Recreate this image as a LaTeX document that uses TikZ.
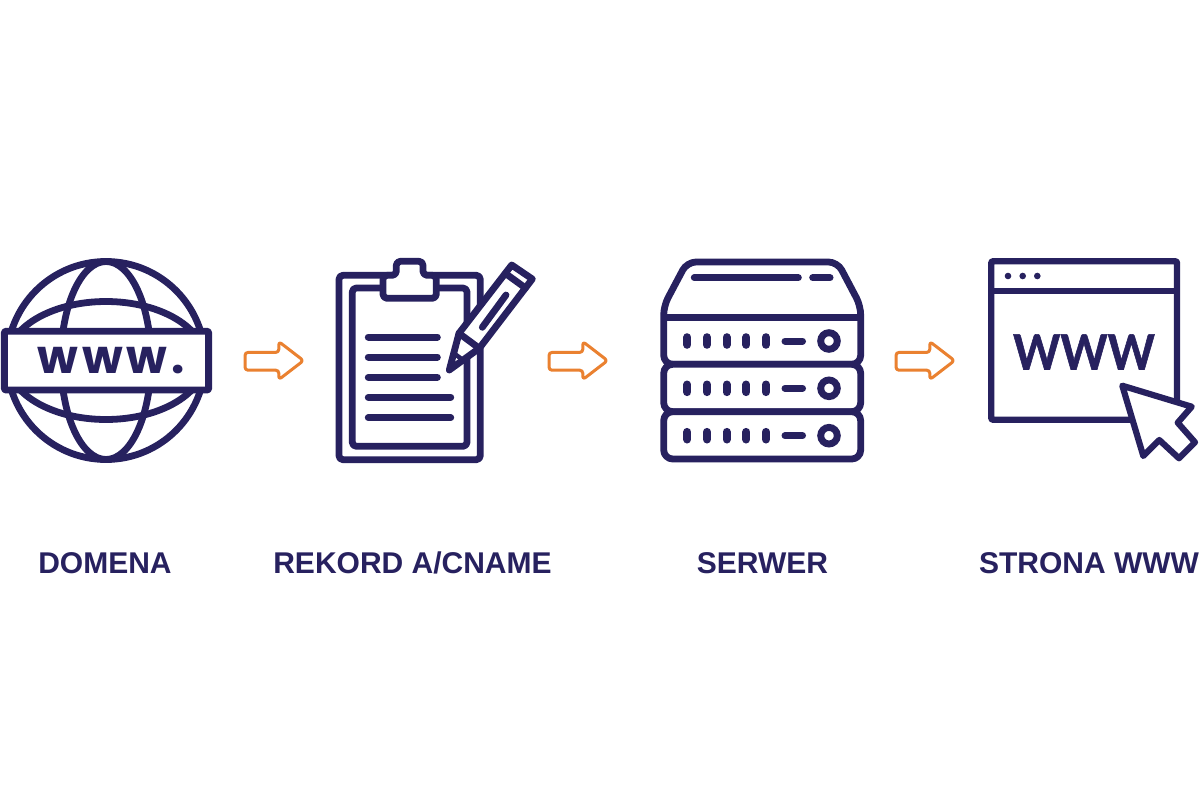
\documentclass[tikz,border=0pt]{standalone}
\usepackage{fontspec}
\setmainfont{Liberation Sans}
\newfontfamily\iconfont{Poppins}[BoldFont={Poppins Bold},BoldFeatures={LetterSpace=8}]
\newfontfamily\wwwfont{Lato}[BoldFeatures={FakeBold=1.2}]
\definecolor{navy}{HTML}{27215F}
\definecolor{orangeline}{HTML}{EA8130}
\tikzset{
  icon/.style={draw=navy,line width=6.8pt,line join=round,line cap=round},
  thinbar/.style={draw=navy,line width=7pt,line cap=round},
  blockarrow/.style={draw=orangeline,line width=3pt,rounded corners=3pt,line join=round},
  caption/.style={text=navy,font=\fontsize{30}{30}\selectfont\bfseries,anchor=base,inner sep=0pt}
}
\newcommand{\blockarrowat}[1]{%
  \draw[blockarrow,shift={(#1,0)}] (245,352.4) -- (278.8,352.4) -- (278.8,341.6) -- (303.5,360.6) -- (278.8,379.6) -- (278.8,370.2) -- (245,370.2) -- cycle;}
\newcommand{\serverrow}[1]{%
  \begin{scope}[shift={(0,#1)}]
    \foreach \x in {687.3,707,726.7,746.3,766} \draw[thinbar,line width=8pt] (\x,337.2) -- (\x,344.8);
    \draw[thinbar] (785,341) -- (802.5,341);
    \draw[navy,line width=6.9pt] (829,341) circle[radius=8.3];
  \end{scope}}
\begin{document}
\begin{tikzpicture}[x=1pt,y=-1pt]
\useasboundingbox (0,0) rectangle (1200,800);
\fill[white] (0,0) rectangle (1200,800);
% globe
\coordinate (globe) at (106,360.5);
\draw[icon] (globe) circle[radius=99];
\draw[icon] (globe) ellipse[x radius=45,y radius=99];
\draw[icon] (globe) ellipse[x radius=99,y radius=59];
\draw[icon,fill=white,line cap=butt,rounded corners=1pt] (4.4,331.3) rectangle (208.6,390);
\node[text=navy,inner sep=0pt,anchor=base,font=\iconfont\fontsize{47}{47}\selectfont\bfseries] (wwwdot) at (111,373) {www.};
% clipboard
\draw[icon,fill=white,rounded corners=4pt] (339,275.3) rectangle (480.3,459.7);
\draw[icon,fill=white,rounded corners=4pt] (352.3,288) rectangle (467,446.3);
\draw[icon,fill=white,rounded corners=4pt] (396.3,275.3) -- (396.3,261.3) -- (423,261.3) -- (423,275.3) -- (436.3,275.3) -- (436.3,298.3) -- (383,298.3) -- (383,275.3) -- cycle;
\foreach \y in {337,357,377.3} \draw[thinbar] (368.3,\y) -- (437.3,\y);
\foreach \y in {397.3,417.7} \draw[thinbar] (368.3,\y) -- (450.7,\y);
% pencil
\draw[icon,fill=white] (459,333.3) -- (511.7,265) -- (532.3,279) -- (479.3,348.3) -- (449.3,370) -- cycle;
\draw[icon] (459,333.3) -- (479.3,348.3);
\draw[icon] (505.5,273.5) -- (525.5,288);
\draw[icon] (482.3,327.3) -- (506,295);
\draw[navy,line width=4.5pt,line cap=round] (455.5,354.5) -- (465,361.5);
% server
\draw[icon,fill=white,rounded corners=9pt] (762,364.3) -- (663.7,364.3) -- (663.7,306) -- (687,262) -- (837.5,262) -- (860.7,306) -- (860.7,364.3) -- cycle;
\draw[icon,fill=white,rounded corners=9pt] (663.7,364.3) rectangle (860.7,411.7);
\draw[icon,fill=white,rounded corners=9pt] (663.7,411.7) rectangle (860.7,459);
\draw[icon,line cap=butt] (663.7,317.3) -- (860.7,317.3);
\draw[thinbar] (694.3,277.7) -- (798.3,277.7);
\draw[thinbar] (812.7,277.7) -- (830,277.7);
\serverrow{0}
\serverrow{47.3}
\serverrow{94.7}
% browser
\draw[icon,line width=6.2pt,fill=white,rounded corners=1pt] (991.3,261.3) rectangle (1177,419.7);
\draw[icon,line width=6.2pt,line cap=butt] (991.3,291) -- (1177,291);
\foreach \x in {1008,1022.7,1037.3} \fill[navy] (\x,276) circle[radius=3.3];
\node[text=navy,inner sep=0pt,anchor=base,font=\wwwfont\fontsize{45}{45}\selectfont\bfseries] (wwwtext) at (1084,369.5) {\scalebox{1}[1.08]{WWW}};
\draw[icon,line width=6.2pt,fill=white] (1122.3,385.7) -- (1191.7,406.7) -- (1177.7,422.7) -- (1195,442.3) -- (1179,458.3) -- (1159.3,440) -- (1143.3,456) -- cycle;
% arrows
\blockarrowat{0}
\blockarrowat{304}
\blockarrowat{651}
% captions
\node[caption] (cap1) at (105,573.5) {DOMENA};
\node[caption] (cap2) at (412.5,573.5) {REKORD A/CNAME};
\node[caption] (cap3) at (762.5,573.5) {SERWER};
\node[caption] (cap4) at (1089,573.5) {STRONA WWW};
\end{tikzpicture}
\end{document}
